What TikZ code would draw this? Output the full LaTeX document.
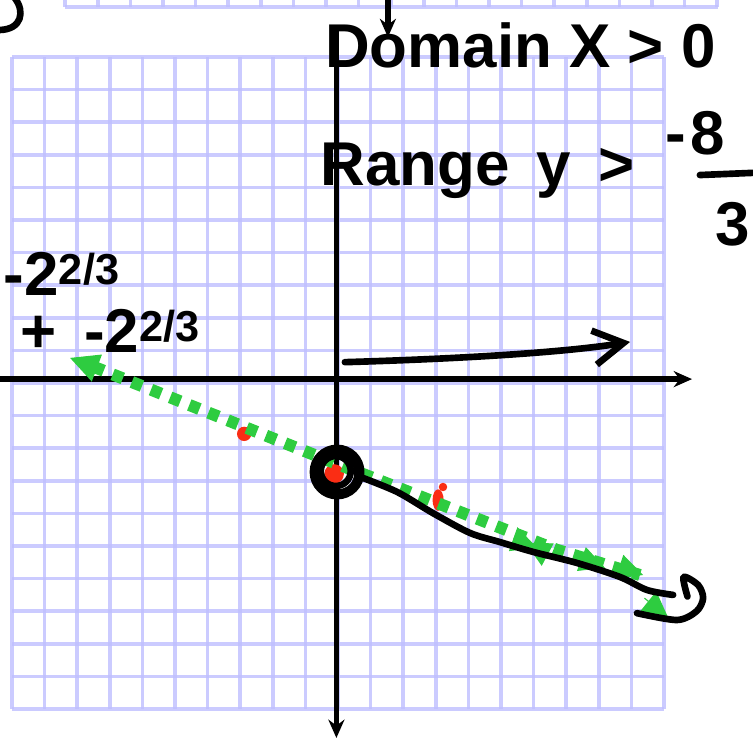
\documentclass[tikz,border=0pt]{standalone}
\usepackage{fontspec}
\setmainfont{Liberation Sans}
\usetikzlibrary{arrows.meta}

\definecolor{gridblue}{RGB}{190,190,255}
\definecolor{pengreen}{RGB}{46,204,64}
\definecolor{penred}{RGB}{250,45,20}

\tikzset{
  gridline/.style={draw=gridblue,line width=3.2pt,opacity=0.8},
  axis/.style={line width=4.6pt,-{Stealth[length=16pt,width=14pt]}},
  ink/.style={line width=5.8pt,line cap=round,line join=round},
  greendash/.style={pengreen,line width=10.5pt,dash pattern=on 9.5pt off 8.5pt},
  greenhead/.style={pengreen,line width=1pt,-{Triangle[length=22pt,width=22pt]}},
  hand/.style={font=\fontsize{54}{60}\selectfont\bfseries,inner sep=0pt},
}

\begin{document}
\begin{tikzpicture}[>=Stealth]
  \useasboundingbox (-10.37,-10.92) rectangle (12.73,11.75);

  % grid paper
  \foreach \i in {-10,...,10} {
    \draw[gridline] (\i,-10) -- (\i,10);
    \draw[gridline] (-10,\i) -- (10,\i);
  }
  \draw[gridline] (-8.37,11.53) -- (11.66,11.53);
  \foreach \i in {0,...,20}
    \draw[gridline] (-8.37+\i,11.53) -- (-8.37+\i,11.8);

  % axes
  \draw[axis] (-10.37,0.12) -- (10.86,0.12);
  \draw[axis,{Stealth[length=16pt,width=14pt]}-] (-0.05,-10.89) -- (-0.05,10.89);
  \draw[axis] (1.53,11.8) -- (1.53,10.61);
  \draw[ink] (-9.91,11.8) .. controls (-9.6,11.4) and (-9.7,10.85) .. (-10.37,10.83);

  % notes
  \node[hand,anchor=base west] (domain) at (-0.40,9.69) {Domain X > 0};
  \node[hand,anchor=base west] (range) at (-0.55,6.07) {Range\, y\, >};
  \node[hand,anchor=base west] (num) at (10.03,7.0) {-\hspace{4pt}8};
  \node[hand,anchor=base west] (den) at (11.58,4.23) {3};
  \draw[ink] (11.10,6.38) -- (12.8,6.45);
  \node[hand,anchor=base east] (rootA) at (-6.69,2.70) {-2\textsuperscript{2/3}};
  \node[hand,anchor=base east] (rootB) at (-4.23,0.95) {+\, -2\textsuperscript{2/3}};

  % domain arrow
  \draw[ink,-{Straight Barb[length=26pt,width=30pt]}] (0.21,0.64)
    .. controls (4,0.75) and (7,0.95) .. (8.96,1.26);

  % points
  \fill[penred] (-2.88,-1.56) circle (0.22);
  \fill[penred] (-0.12,-2.79) circle (0.3);
  \fill[penred] (3.07,-3.59) ellipse (0.17 and 0.33);
  \fill[penred] (3.22,-3.19) circle (0.13);

  % green line
  \draw[greendash] (-7.5,0.5) -- (-0.49,-2.30) -- (6.72,-5.12) -- (9.26,-5.89);
  \draw[greenhead,{Triangle[length=25pt,width=25pt]}-] (-8.22,0.77) -- (-7.4,0.46);
  \draw[greenhead] (5.4,-4.8) -- (6.1,-5.05);
  \draw[greenhead] (6.5,-5.3) -- (5.75,-4.9);
  \draw[greenhead] (7.6,-5.45) -- (8.19,-5.67);
  \draw[greenhead] (8.8,-5.7) -- (9.36,-5.89);
  \draw[greenhead] (9.4,-6.6) -- (10.12,-7.18);

  % black curve
  \draw[ink] plot[smooth] coordinates {(0.6,-2.85) (1.81,-3.34) (2.91,-3.99)
    (4.05,-4.60) (4.97,-4.88) (5.98,-5.18) (7.33,-5.52) (8.65,-5.95)
    (9.48,-6.35) (10.28,-6.50)};
  \draw[ink] plot[smooth] coordinates {(9.17,-7.06) (10.40,-7.27) (11.0,-7.0)
    (11.20,-6.6) (11.05,-6.2) (10.6,-5.95) (10.72,-6.55)};
  \draw[ink] (-0.03,-2.73) circle (0.74);
  \draw[ink] (0.0,-2.76) circle (0.6);
  \draw[ink] (-0.07,-2.7) circle (0.46);

\end{tikzpicture}
\end{document}
